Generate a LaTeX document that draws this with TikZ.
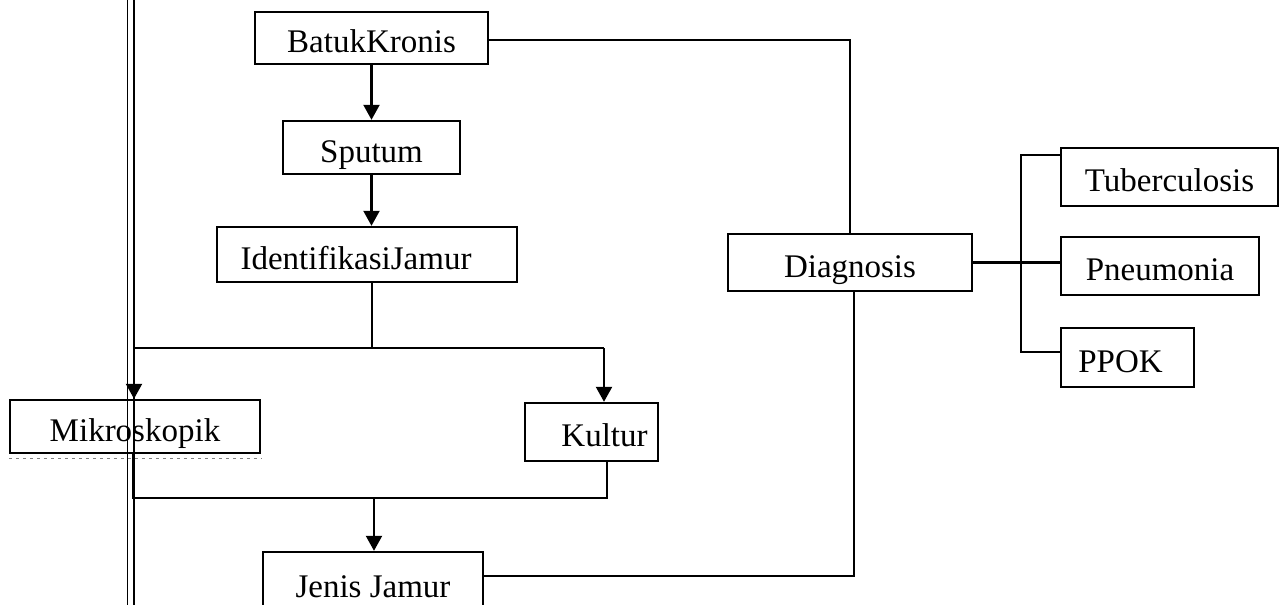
\documentclass[tikz,border=0pt]{standalone}
\usepackage{fontspec}
\setmainfont{Liberation Serif}
\usetikzlibrary{arrows.meta}
\begin{document}
\begin{tikzpicture}[x=1pt,y=-1pt,
  lbl/.style={font=\fontsize{33}{38}\selectfont, text height=33pt, text depth=4pt, inner sep=0pt},
  box/.style={lbl, draw, line width=2.4pt},
  conn/.style={line width=2.2pt},
  arr/.style={conn, -{Triangle[length=15pt,width=16pt]}},
  rail/.style={line width=1.9pt},
  scanmark/.style={gray, line width=1pt, dash pattern=on 3pt off 4pt}]
\clip (0,0) rectangle (1280,605);
\fill[white] (0,0) rectangle (1280,605);
% double rail on the left
\draw[rail] (127.5,0) -- (127.5,605);
\draw[rail] (134,0) -- (134,605);
% boxes
\node[box, minimum width=233pt, minimum height=52pt] (batuk) at (371.5,38) {BatukKronis};
\node[box, minimum width=177pt, minimum height=53pt] (sputum) at (371.5,147.5) {Sputum};
\node[box, minimum width=300pt, minimum height=55pt,
      label={[lbl, xshift=-11pt]center:IdentifikasiJamur}] (ident) at (367,254.5) {};
\node[box, fill=white, minimum width=250pt, minimum height=53pt] (mikro) at (135,426.5) {Mikroskopik};
\node[box, minimum width=133pt, minimum height=58pt,
      label={[lbl, xshift=13pt]center:Kultur}] (kultur) at (591.5,432) {};
\node[box, minimum width=220pt, minimum height=62pt] (jenis) at (373,583) {Jenis Jamur};
\node[box, minimum width=244pt, minimum height=57pt] (diag) at (850,262.5) {Diagnosis};
\node[box, minimum width=217pt, minimum height=58pt] (tb) at (1169.5,177) {Tuberculosis};
\node[box, minimum width=198pt, minimum height=58pt] (pneu) at (1160,266) {Pneumonia};
\node[box, minimum width=133pt, minimum height=59pt,
      label={[lbl, xshift=-7pt]center:PPOK}] (ppok) at (1127.5,357.5) {};
% rail visible through Mikroskopik box
\draw[rail] (127.5,400) -- (127.5,453);
\draw[rail] (134,400) -- (134,453);
\draw[scanmark] ([yshift=-4pt]mikro.south west) -- ([yshift=-4pt]mikro.south east);
% coordinates
\coordinate (split) at (372,348);
\coordinate (sl) at (134,348);
\coordinate (sr) at (604,348);
\coordinate (jl) at (133,498);
\coordinate (jr) at (607,498);
\coordinate (jm) at (374,498);
\coordinate (tr) at (850,40);
\coordinate (br) at (854,576);
\coordinate (bt) at (1021,155);
\coordinate (bb) at (1021,352);
% connectors
\draw[arr] (batuk.south) -- (sputum.north);
\draw[arr] (sputum.south) -- (sputum.south |- ident.north);
\draw[conn] (split |- ident.south) -- (split);
\draw[conn] (sl) -- (sr);
\draw[arr] (sl) -- (sl |- mikro.north);
\draw[arr] (sr) -- (sr |- kultur.north);
\draw[conn] (jl |- mikro.south) -- (jl) -- (jr) -- (jr |- kultur.south);
\draw[arr] (jm) -- (jm |- jenis.north);
\draw[conn] (batuk.east |- tr) -- (tr) -- (tr |- diag.north);
\draw[conn] (jenis.east |- br) -- (br) -- (br |- diag.south);
\draw[conn] (diag.east) -- (diag.east -| pneu.west);
\draw[conn] (bt -| tb.west) -- (bt) -- (bb) -- (bb -| ppok.west);
\end{tikzpicture}
\end{document}
